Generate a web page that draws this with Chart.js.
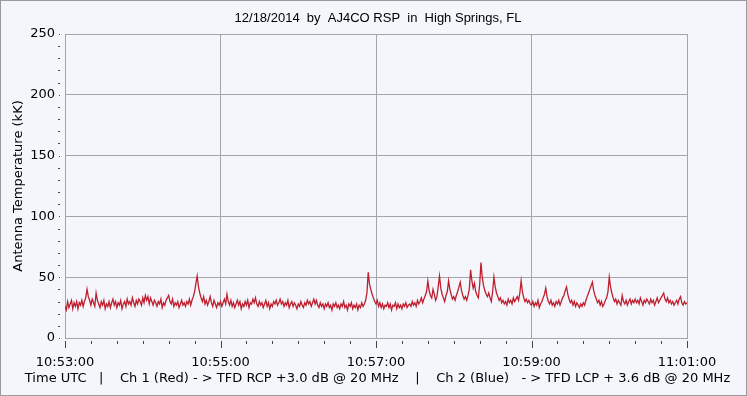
<!DOCTYPE html>
<html><head><meta charset="utf-8">
<script src="https://cdn.jsdelivr.net/npm/chart.js@4/dist/chart.umd.min.js"></script>
<style>html,body{margin:0;padding:0;background:#f4f6fc;overflow:hidden}</style>
</head><body>
<canvas id="c" width="747" height="396"></canvas>
<script>
const chartTitle = "12/18/2014  by  AJ4CO RSP  in  High Springs, FL";
const yAxisTitle = "Antenna Temperature (kK)";
const xAxisTitle = "Time UTC   |    Ch 1 (Red) - > TFD RCP +3.0 dB @ 20 MHz    |    Ch 2 (Blue)   - > TFD LCP + 3.6 dB @ 20 MHz";
const startTime = "10:53:00";
const sampleSeconds = 1;
const xTickLabels = ["10:53:00", "10:55:00", "10:57:00", "10:59:00", "11:01:00"];
const yTickValues = [0, 50, 100, 150, 200, 250];
// Ch 1 (Red) antenna temperature (kK), one reading per second from 10:53:00
const ch1Red = [
  26,23,30,25,28,31,24,29,26,30,
  24,29,27,31,26,30,33,40,34,31,
  27,32,29,26,37,31,28,25,30,27,
  31,24,28,26,30,25,29,32,27,30,
  25,29,27,31,24,28,30,26,32,28,
  30,27,33,29,26,31,28,32,30,27,
  33,29,35,31,34,28,33,30,27,31,
  29,26,30,28,32,25,29,27,31,33,
  35,30,28,32,26,29,27,30,25,28,
  31,27,29,26,30,28,32,27,31,34,
  38,45,51,42,37,33,30,34,28,31,
  27,30,34,29,26,31,28,25,29,27,
  30,26,29,32,28,36,30,27,31,26,
  29,25,28,31,27,30,24,28,26,30,
  27,31,25,29,28,32,29,33,28,26,
  30,27,29,25,28,31,26,29,24,28,
  26,30,28,31,27,29,32,28,30,26,
  29,27,31,25,28,30,26,29,27,24,
  28,26,30,27,25,29,27,31,28,30,
  26,29,32,28,31,27,25,29,26,28,
  24,28,26,29,25,27,23,28,26,29,
  25,27,24,28,26,30,25,27,23,28,
  26,29,24,27,25,28,23,27,25,29,
  26,28,31,37,54,44,40,36,33,30,
  28,31,26,29,25,28,24,27,26,29,
  25,28,23,27,26,29,24,28,25,27,
  24,28,26,29,25,27,28,26,30,27,
  29,26,31,28,30,33,29,32,35,38,
  47,39,35,33,40,36,31,34,42,51,
  41,36,33,30,35,38,47,40,36,32,
  34,31,35,38,42,46,39,35,32,34,
  31,35,40,56,47,41,45,38,35,33,
  44,62,50,43,39,36,34,37,33,30,
  38,50,42,37,34,31,33,29,31,28,
  30,27,32,29,31,28,33,30,32,34,
  31,37,47,38,33,30,32,29,31,28,
  27,30,26,29,27,31,25,28,30,33,
  36,41,34,30,28,31,27,29,26,30,
  28,31,27,30,33,35,39,42,36,32,
  29,31,27,30,26,29,27,25,28,26,
  29,27,31,34,37,40,43,46,39,35,
  32,29,31,27,30,26,28,31,33,38,
  50,42,37,33,30,32,28,31,29,27,
  35,30,28,31,27,30,32,28,31,29,
  32,29,31,28,33,30,27,31,29,32,
  30,28,32,29,31,27,30,33,29,31,
  33,35,37,32,30,33,29,31,28,30,
  27,29,31,28,32,34,29,27,30,28,
  29
];

function toSec(s){ const p = s.split(':').map(Number); return p[0]*3600 + p[1]*60 + p[2]; }
const t0 = toSec(startTime);
const xTickValues = xTickLabels.map(l => toSec(l) - t0);
const points = ch1Red.map((v, i) => ({x: i * sampleSeconds, y: v}));

const GRID = '#a4a4ac';
const FONT = 'DejaVu Sans';

function drawSpaced(c, text, cx, cy, targetWidth) {
  const hasLS = 'letterSpacing' in c;
  if (hasLS) c.letterSpacing = '0px';
  const w0 = c.measureText(text).width;
  let ls = (targetWidth - w0) / text.length;
  if (hasLS && ls > 0) {
    c.letterSpacing = ls.toFixed(2) + 'px';
    c.fillText(text, cx + ls / 2, cy);
    c.letterSpacing = '0px';
  } else {
    c.fillText(text, cx, cy, targetWidth);
  }
}

const framePlugin = {
  id: 'frame',
  beforeDraw(chart) {
    const c = chart.ctx;
    c.save();
    c.fillStyle = '#f4f6fc';
    c.fillRect(0, 0, chart.width, chart.height);
    c.restore();
  },
  afterDraw(chart) {
    const c = chart.ctx;
    const xs = chart.scales.x, ys = chart.scales.y;
    const a = chart.chartArea;
    c.save();
    c.strokeStyle = '#444';
    c.lineWidth = 1;
    for (let v = xs.min; v <= xs.max; v += 20) {
      const px = Math.round(xs.getPixelForValue(v)) + 0.5;
      const major = xTickValues.includes(v);
      c.beginPath();
      c.moveTo(px, a.bottom + 3);
      c.lineTo(px, a.bottom + (major ? 10 : 6));
      c.stroke();
    }
    for (let v = ys.min; v <= ys.max; v += 10) {
      const py = Math.round(ys.getPixelForValue(v)) + 0.5;
      const major = yTickValues.includes(v);
      c.beginPath();
      c.moveTo(a.left - (major ? 6 : 7), py);
      c.lineTo(a.left - 5, py);
      c.stroke();
    }
    c.fillStyle = '#000';
    c.textAlign = 'center';
    c.textBaseline = 'middle';
    c.font = '13px "Liberation Sans"';
    c.fillText(chartTitle, 378, 18);
    c.font = '13px "' + FONT + '"';
    drawSpaced(c, xAxisTitle, 377.5, 379, 705);
    c.strokeStyle = '#9a9aa0';
    c.strokeRect(0.5, 0.5, chart.width - 1, chart.height - 1);
    c.restore();
  }
};

new Chart(document.getElementById('c'), {
  type: 'line',
  data: { datasets: [{ data: points, borderColor: '#be1e2d', borderWidth: 1.3, pointRadius: 0, tension: 0, fill: false }] },
  options: {
    responsive: false, animation: false, events: [],
    layout: { padding: { left: 0, right: 60, top: 34, bottom: 0 } },
    plugins: { legend: { display: false }, title: { display: false }, tooltip: { enabled: false } },
    scales: {
      x: {
        type: 'linear', min: 0, max: xTickValues[xTickValues.length - 1],
        afterBuildTicks: s => { s.ticks = xTickValues.map(v => ({ value: v })); },
        afterFit: s => { s.height = 58; },
        ticks: { callback: (v) => xTickLabels[xTickValues.indexOf(v)], font: { family: FONT, size: 13 }, color: '#000', padding: 17, maxRotation: 0, autoSkip: false },
        grid: { color: GRID, drawTicks: false, lineWidth: 1 },
        border: { color: GRID },
        title: { display: false }
      },
      y: {
        min: 0, max: 250,
        afterBuildTicks: s => { s.ticks = yTickValues.map(v => ({ value: v })); },
        afterFit: s => { s.width = 65; },
        ticks: { font: { family: FONT, size: 13 }, color: '#000', padding: 10 },
        grid: { color: GRID, drawTicks: false, lineWidth: 1 },
        border: { color: GRID },
        title: { display: true, text: yAxisTitle, font: { family: FONT, size: 13 }, color: '#000', padding: { top: 11, bottom: 0 } }
      }
    }
  },
  plugins: [framePlugin]
});
</script>
</body></html>
